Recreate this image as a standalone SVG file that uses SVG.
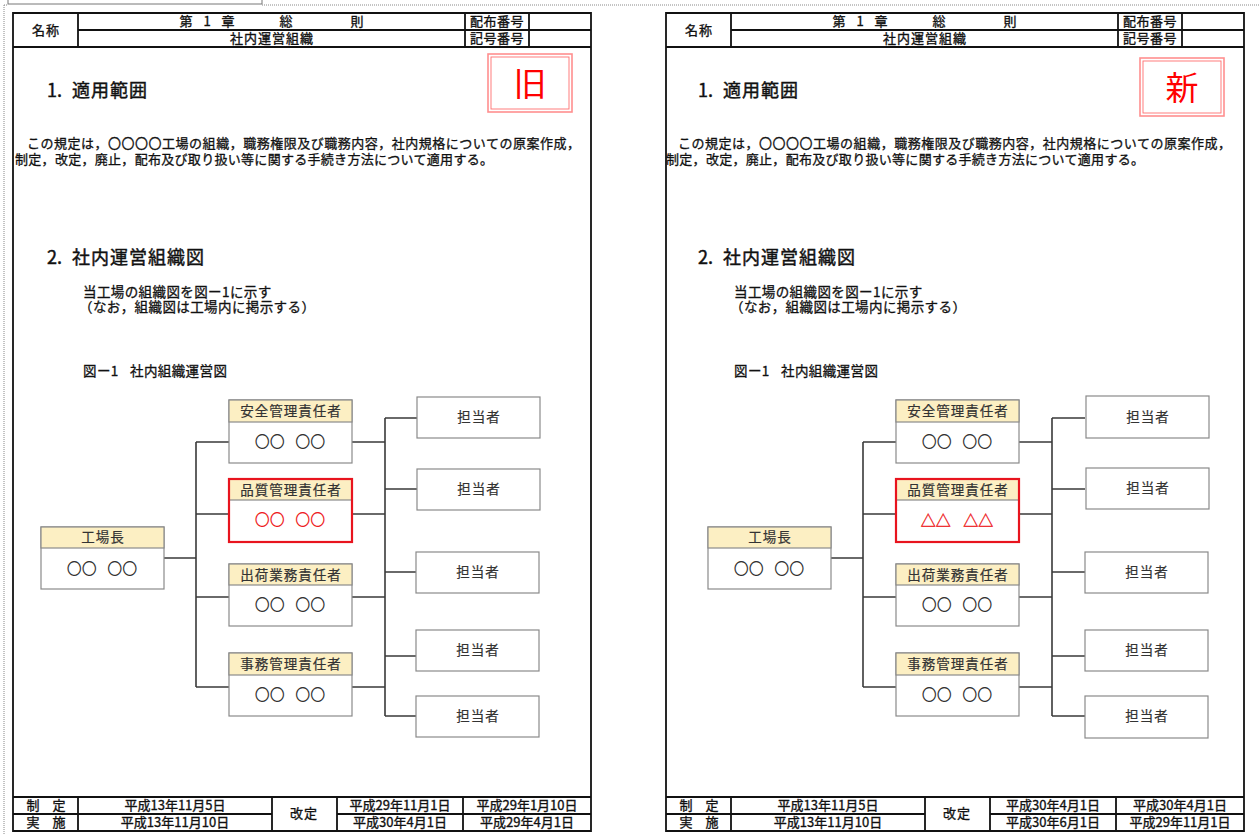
<svg xmlns="http://www.w3.org/2000/svg" width="1260" height="834" viewBox="0 0 1260 834">
<style>
text{font-family:"Noto Sans CJK JP","Noto Sans CJK SC",sans-serif;fill:#111}
.fr{fill:none;stroke:#111;stroke-width:1.8}
.hd{font-size:13px;text-anchor:middle;fill:#111;stroke:#111;stroke-width:0.35}
.h1{font-size:18px;fill:#111;stroke:#111;stroke-width:0.45}
.p{font-size:13px;fill:#111;stroke:#111;stroke-width:0.3}
.s{font-size:13.5px;fill:#111;stroke:#111;stroke-width:0.3}
.box{fill:#fff;stroke:#8a8a8a;stroke-width:1.2}
.hdr{fill:#fcefc3;stroke:#8a8a8a;stroke-width:1.2}
.red{fill:none;stroke:#e8141e;stroke-width:2.2}
.bt{font-size:13.5px;text-anchor:middle;letter-spacing:1px;fill:#333;stroke:#333;stroke-width:0.2}
.nm{font-size:15px;text-anchor:middle;fill:#333;word-spacing:7px}
.rn{font-size:15px;text-anchor:middle;fill:#ee1c24;word-spacing:7px}
.con{fill:none;stroke:#3a3a3a;stroke-width:1.6}
.st1{fill:none;stroke:#ff8f8f;stroke-width:1.6}
.st2{fill:none;stroke:#ff6f6f;stroke-width:0.9}
.stt{font-size:33px;fill:#ff0000;text-anchor:middle}
</style>
<defs>
<g id="pageFrame">
<path class="fr" d="M13,13 H591 V831 H13 Z M78,30 H591 M13,47 H591 M78,13 V47 M465,13 V47 M529,13 V47 M13,797 H591 M13,814 H272 M337,814 H591 M78,797 V831 M272,797 V831 M337,797 V831 M463,797 V831"/>
<text class="hd" x="46" y="35" letter-spacing="1">名称</text>
<text class="hd"><tspan x="186" y="26">第</tspan><tspan x="207" y="26">1</tspan><tspan x="228" y="26">章</tspan><tspan x="286" y="26">総</tspan><tspan x="357" y="26">則</tspan></text>
<text class="hd" x="272" y="43" letter-spacing="1">社内運営組織</text>
<text class="hd" x="497" y="26" letter-spacing="0.5">配布番号</text>
<text class="hd" x="497" y="43" letter-spacing="0.5">記号番号</text>
<text class="hd" x="46" y="810" xml:space="preserve">制　定</text>
<text class="hd" x="46" y="827" xml:space="preserve">実　施</text>
<text class="hd" x="304" y="818" letter-spacing="1">改定</text>
</g>
<g id="pageText">
<text class="h1"><tspan x="47" y="97">1.</tspan><tspan x="72" y="97" letter-spacing="1">適用範囲</tspan></text>
<text class="p" x="27" y="148" textLength="553" lengthAdjust="spacing">この規定は，〇〇〇〇工場の組織，職務権限及び職務内容，社内規格についての原案作成，</text>
<text class="p" x="15" y="164" textLength="478" lengthAdjust="spacing">制定，改定，廃止，配布及び取り扱い等に関する手続き方法について適用する。</text>
<text class="h1"><tspan x="47" y="264">2.</tspan><tspan x="72" y="264" letter-spacing="1">社内運営組織図</tspan></text>
<text class="s" x="83" y="297" letter-spacing="0.4">当工場の組織図を図ー1に示す</text>
<text class="s" x="79" y="312" letter-spacing="0.4">（なお，組織図は工場内に掲示する）</text>
<text class="s" x="83" y="376" letter-spacing="0.4"><tspan>図ー1</tspan><tspan x="130">社内組織運営図</tspan></text>
</g>
</defs>

<g id="sheet-edge">
<rect x="8" y="-4" width="254" height="8" fill="#fff" stroke="#777" stroke-width="1"/>
<path d="M262,5 H1260 M4,5 H8 M4,5 V834" fill="none" stroke="#888" stroke-width="1" stroke-dasharray="1,1"/>
</g>

<!-- LEFT PAGE (旧) -->
<g id="page-old">
<use href="#pageFrame"/>
<use href="#pageText"/>
<text class="hd" x="175" y="810">平成13年11月5日</text>
<text class="hd" x="175" y="827">平成13年11月10日</text>
<text class="hd" x="400" y="810">平成29年11月1日</text>
<text class="hd" x="400" y="827">平成30年4月1日</text>
<text class="hd" x="527" y="810">平成29年1月10日</text>
<text class="hd" x="527" y="827">平成29年4月1日</text>
<g id="stamp-old">
<rect class="st1" x="488" y="54" width="84" height="58"/>
<rect class="st2" x="491" y="57" width="78" height="52"/>
<text class="stt" x="530" y="96">旧</text>
</g>
</g>

<g id="connectors-old">
<path class="con" d="M164,558 H196 M196,442 V687 M196,442 H229 M196,514 H229 M196,597 H229 M196,687 H229 M352,442 H385 M352,514 H385 M352,597 H385 M352,687 H385 M385,418 V716 M385,418 H417 M385,489 H417 M385,572 H416 M385,656 H416 M385,716 H416"/>
</g>
<g id="old-kojocho">
<rect class="box" x="41" y="527" width="123" height="62"/>
<rect class="hdr" x="41" y="527" width="123" height="21"/>
<text class="bt" x="103" y="542">工場長</text>
<text class="nm" x="102" y="574">〇〇 〇〇</text>
</g>
<g id="old-anzen">
<rect class="box" x="229" y="400" width="123" height="63"/>
<rect class="hdr" x="229" y="400" width="123" height="22"/>
<text class="bt" x="291" y="416">安全管理責任者</text>
<text class="nm" x="290" y="447">〇〇 〇〇</text>
</g>
<g id="old-hinshitsu">
<rect class="box" x="229" y="479" width="123" height="63"/>
<rect class="hdr" x="229" y="479" width="123" height="21"/>
<rect class="red" x="229" y="479" width="123" height="63"/>
<text class="bt" x="291" y="495">品質管理責任者</text>
<text class="rn" x="290" y="525">〇〇 〇〇</text>
</g>
<g id="old-shukka">
<rect class="box" x="229" y="564" width="123" height="62"/>
<rect class="hdr" x="229" y="564" width="123" height="21"/>
<text class="bt" x="291" y="580">出荷業務責任者</text>
<text class="nm" x="290" y="610">〇〇 〇〇</text>
</g>
<g id="old-jimu">
<rect class="box" x="229" y="653" width="123" height="63"/>
<rect class="hdr" x="229" y="653" width="123" height="22"/>
<text class="bt" x="291" y="669">事務管理責任者</text>
<text class="nm" x="290" y="700">〇〇 〇〇</text>
</g>
<g id="old-tanto1"><rect class="box" x="417" y="397" width="123" height="41"/><text class="bt" x="479" y="422">担当者</text></g>
<g id="old-tanto2"><rect class="box" x="417" y="469" width="123" height="41"/><text class="bt" x="479" y="494">担当者</text></g>
<g id="old-tanto3"><rect class="box" x="416" y="552" width="123" height="41"/><text class="bt" x="478" y="577">担当者</text></g>
<g id="old-tanto4"><rect class="box" x="416" y="630" width="123" height="41"/><text class="bt" x="478" y="655">担当者</text></g>
<g id="old-tanto5"><rect class="box" x="416" y="696" width="123" height="41"/><text class="bt" x="478" y="721">担当者</text></g>

<!-- RIGHT PAGE (新) -->
<g id="page-new">
<use href="#pageFrame" transform="translate(653,0)"/>
<use href="#pageText" transform="translate(651,0)"/>
<g transform="translate(653,0)">
<text class="hd" x="175" y="810">平成13年11月5日</text>
<text class="hd" x="175" y="827">平成13年11月10日</text>
<text class="hd" x="400" y="810">平成30年4月1日</text>
<text class="hd" x="400" y="827">平成30年6月1日</text>
<text class="hd" x="527" y="810">平成30年4月1日</text>
<text class="hd" x="527" y="827">平成29年11月1日</text>
</g>
<g id="stamp-new">
<rect class="st1" x="1140" y="58" width="84" height="58"/>
<rect class="st2" x="1143" y="61" width="78" height="52"/>
<text class="stt" x="1182" y="100">新</text>
</g>
</g>

<g id="connectors-new" transform="translate(667,0)">
<path class="con" d="M164,558 H196 M196,442 V687 M196,442 H229 M196,514 H229 M196,597 H229 M196,687 H229 M352,442 H385 M352,514 H385 M352,597 H385 M352,687 H385 M385,418 V716 M385,418 H418 M385,489 H418 M385,572 H418 M385,656 H418 M385,716 H418"/>
</g>
<g id="new-kojocho" transform="translate(667,0)">
<rect class="box" x="41" y="527" width="123" height="62"/>
<rect class="hdr" x="41" y="527" width="123" height="21"/>
<text class="bt" x="103" y="542">工場長</text>
<text class="nm" x="102" y="574">〇〇 〇〇</text>
</g>
<g id="new-anzen" transform="translate(667,0)">
<rect class="box" x="229" y="400" width="123" height="63"/>
<rect class="hdr" x="229" y="400" width="123" height="22"/>
<text class="bt" x="291" y="416">安全管理責任者</text>
<text class="nm" x="290" y="447">〇〇 〇〇</text>
</g>
<g id="new-hinshitsu" transform="translate(667,0)">
<rect class="box" x="229" y="479" width="123" height="63"/>
<rect class="hdr" x="229" y="479" width="123" height="21"/>
<rect class="red" x="229" y="479" width="123" height="63"/>
<text class="bt" x="291" y="495">品質管理責任者</text>
<text class="rn" x="290" y="526" style="font-size:15px;word-spacing:9px;stroke:#ee1c24;stroke-width:0.4">△△ △△</text>
</g>
<g id="new-shukka" transform="translate(667,0)">
<rect class="box" x="229" y="564" width="123" height="62"/>
<rect class="hdr" x="229" y="564" width="123" height="21"/>
<text class="bt" x="291" y="580">出荷業務責任者</text>
<text class="nm" x="290" y="610">〇〇 〇〇</text>
</g>
<g id="new-jimu" transform="translate(667,0)">
<rect class="box" x="229" y="653" width="123" height="63"/>
<rect class="hdr" x="229" y="653" width="123" height="22"/>
<text class="bt" x="291" y="669">事務管理責任者</text>
<text class="nm" x="290" y="700">〇〇 〇〇</text>
</g>
<g id="new-tanto1"><rect class="box" x="1086" y="396" width="123" height="42"/><text class="bt" x="1148" y="422">担当者</text></g>
<g id="new-tanto2"><rect class="box" x="1086" y="468" width="123" height="41"/><text class="bt" x="1148" y="493">担当者</text></g>
<g id="new-tanto3"><rect class="box" x="1085" y="552" width="123" height="41"/><text class="bt" x="1147" y="577">担当者</text></g>
<g id="new-tanto4"><rect class="box" x="1085" y="630" width="123" height="41"/><text class="bt" x="1147" y="655">担当者</text></g>
<g id="new-tanto5"><rect class="box" x="1085" y="696" width="123" height="42"/><text class="bt" x="1147" y="721">担当者</text></g>
</svg>
